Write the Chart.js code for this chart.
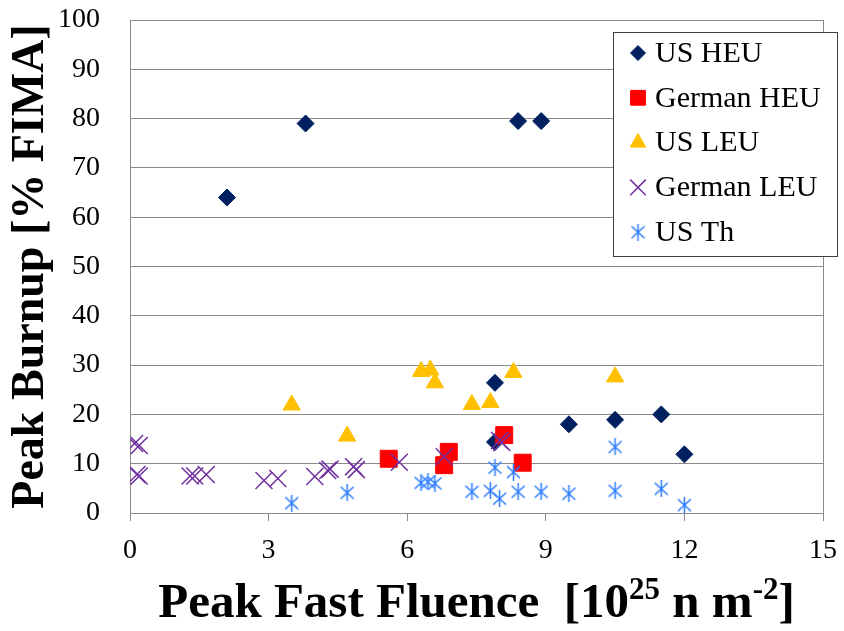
<!DOCTYPE html>
<html>
<head>
<meta charset="utf-8">
<title>Peak Burnup vs Peak Fast Fluence</title>
<script src="https://cdn.jsdelivr.net/npm/chart.js@4.4.1/dist/chart.umd.min.js"></script>
<style>
  html, body { margin: 0; padding: 0; background: #fff; }
  #wrap { width: 844px; height: 631px; position: relative; }
</style>
</head>
<body>
<div id="wrap"><canvas id="burnupChart" width="844" height="631"></canvas></div>
<script>
// series labels (legend order)
const seriesNames = ["US HEU", "German HEU", "US LEU", "German LEU", "US Th"];
const seriesColors = ["#002060", "#FF0000", "#FFC000", "#7030A0", "#2A7BFF"];

// x = peak fast fluence [1e25 n/m2], y = peak burnup [% FIMA]
const usHeuX = [2.1, 3.8, 8.4, 8.9, 7.9, 7.9, 9.5, 10.5, 11.5, 12.0];
const usHeuY = [64.0, 79.0, 79.5, 79.5, 26.4, 14.4, 18.0, 18.9, 20.0, 11.9];

const germanHeuX = [5.6, 6.8, 6.9, 8.1, 8.5];
const germanHeuY = [11.0, 9.7, 12.4, 15.8, 10.2];

const usLeuX = [3.5, 4.7, 6.3, 6.5, 6.6, 7.4, 7.8, 8.3, 10.5];
const usLeuY = [21.9, 15.6, 28.7, 29.0, 26.4, 22.0, 22.4, 28.5, 27.6];

const germanLeuX = [0.1, 0.2, 0.15, 0.2, 1.3, 1.4, 1.65, 2.9, 3.2, 4.0, 4.28, 4.33, 4.84, 4.9, 5.83, 6.8, 8.0, 8.05];
const germanLeuY = [14.1, 13.7, 7.8, 7.5, 7.5, 7.5, 7.8, 6.6, 7.0, 7.4, 8.6, 8.9, 9.4, 8.8, 10.3, 11.4, 14.7, 14.3];

const usThX = [3.5, 4.7, 6.3, 6.45, 6.6, 7.4, 7.8, 8.0, 7.9, 8.3, 8.4, 8.9, 9.5, 10.5, 10.5, 11.5, 12.0];
const usThY = [2.0, 4.1, 6.1, 6.3, 6.0, 4.3, 4.5, 2.9, 9.2, 8.3, 4.3, 4.3, 3.9, 13.4, 4.5, 4.9, 1.6];

const xTicks = [0, 3, 6, 9, 12, 15];
const yTicks = [0, 10, 20, 30, 40, 50, 60, 70, 80, 90, 100];

const SERIF = "'Liberation Serif', 'Times New Roman', serif";
const GRID = "#8a8a8a";

function toPoints(xs, ys) {
  return xs.map((x, i) => ({ x: x, y: ys[i] }));
}

// Excel-like asterisk marker (X plus a vertical bar)
function makeAsterisk(color) {
  const c = document.createElement("canvas");
  c.width = 17;
  c.height = 17;
  const g = c.getContext("2d");
  g.strokeStyle = color;
  g.lineWidth = 1.5;
  g.beginPath();
  g.moveTo(2, 2.5); g.lineTo(15, 14.5);
  g.moveTo(15, 2.5); g.lineTo(2, 14.5);
  g.moveTo(8.5, 0); g.lineTo(8.5, 17);
  g.stroke();
  return c;
}

const asterisk = makeAsterisk(seriesColors[4]);

const markerStyles = [
  { pointStyle: "rectRot", radius: 8.5, borderWidth: 1 },
  { pointStyle: "rect", radius: 12, borderWidth: 1 },
  { pointStyle: "triangle", radius: 10, borderWidth: 1 },
  { pointStyle: "crossRot", radius: 12, borderWidth: 1.5 },
  { pointStyle: asterisk, radius: 8, borderWidth: 1 }
];

const seriesData = [
  toPoints(usHeuX, usHeuY),
  toPoints(germanHeuX, germanHeuY),
  toPoints(usLeuX, usLeuY),
  toPoints(germanLeuX, germanLeuY),
  toPoints(usThX, usThY)
];

// boxed legend in the top right corner, sticking out past the plot frame
const boxLegend = {
  id: "boxLegend",
  afterDraw(chart) {
    const ctx = chart.ctx;
    const left = 613, top = 32, width = 224, height = 224;
    const rowGap = 44.8;
    ctx.save();
    ctx.fillStyle = "#fff";
    ctx.fillRect(left, top, width, height);
    ctx.strokeStyle = "#404040";
    ctx.lineWidth = 1;
    ctx.strokeRect(left + 0.5, top + 0.5, width, height);

    seriesNames.forEach((name, i) => {
      const y = top + 21 + i * rowGap;
      const st = markerStyles[i];
      ctx.fillStyle = seriesColors[i];
      ctx.strokeStyle = seriesColors[i];
      ctx.lineWidth = st.borderWidth;
      if (Chart.helpers && Chart.helpers.drawPoint) {
        Chart.helpers.drawPoint(ctx, {
          pointStyle: st.pointStyle,
          radius: i === 1 ? 10.5 : st.radius - 1,
          rotation: 0,
          borderWidth: st.borderWidth
        }, left + 25, y);
      }
      ctx.fillStyle = "#000";
      ctx.font = "30px " + SERIF;
      ctx.textAlign = "left";
      ctx.textBaseline = "middle";
      ctx.fillText(name, left + 42, y + 1);
    });
    ctx.restore();
  }
};

// x axis title with superscripts
const xTitle = {
  id: "xTitle",
  afterDraw(chart) {
    const ctx = chart.ctx;
    const area = chart.chartArea;
    const parts = [
      { t: "Peak Fast Fluence  [10", sup: false },
      { t: "25", sup: true },
      { t: " n m", sup: false },
      { t: "-2", sup: true },
      { t: "]", sup: false }
    ];
    const bigFont = "bold 49px " + SERIF;
    const smallFont = "bold 31px " + SERIF;
    ctx.save();
    let total = 0;
    parts.forEach(p => {
      ctx.font = p.sup ? smallFont : bigFont;
      p.w = ctx.measureText(p.t).width;
      total += p.w;
    });
    let x = (area.left + area.right) / 2 - total / 2;
    const base = 617;
    ctx.fillStyle = "#000";
    ctx.textAlign = "left";
    ctx.textBaseline = "alphabetic";
    parts.forEach(p => {
      ctx.font = p.sup ? smallFont : bigFont;
      ctx.fillText(p.t, x, p.sup ? base - 18 : base);
      x += p.w;
    });
    ctx.restore();
  }
};

function renderChart() {
  const ctx = document.getElementById("burnupChart").getContext("2d");

  new Chart(ctx, {
    type: "scatter",
    data: {
      datasets: seriesNames.map((name, i) => ({
        label: name,
        data: seriesData[i],
        backgroundColor: seriesColors[i],
        borderColor: seriesColors[i],
        pointStyle: markerStyles[i].pointStyle,
        pointRadius: markerStyles[i].radius,
        pointBorderWidth: markerStyles[i].borderWidth,
        // later series are painted on top, like the original
        order: seriesNames.length - i
      }))
    },
    options: {
      responsive: false,
      animation: false,
      layout: { autoPadding: false, padding: { top: 20, right: 21, left: 0, bottom: 0 } },
      plugins: {
        legend: { display: false },
        tooltip: { enabled: false }
      },
      scales: {
        x: {
          type: "linear",
          min: 0,
          max: 15,
          afterBuildTicks: (scale) => { scale.ticks = xTicks.map(v => ({ value: v })); },
          afterFit: (scale) => {
            // fixed plot frame, don't let edge labels push it around
            scale.height = 118;
            scale.paddingLeft = 0;
            scale.paddingRight = 0;
          },
          border: { color: GRID, width: 1 },
          grid: {
            color: (c) => (c.tick && c.tick.value === 15 ? GRID : "rgba(0,0,0,0)"),
            tickColor: GRID,
            drawTicks: true,
            tickLength: 8
          },
          ticks: {
            color: "#000",
            padding: 13,
            font: { family: SERIF, size: 28 }
          }
        },
        y: {
          type: "linear",
          min: 0,
          max: 100,
          afterBuildTicks: (scale) => { scale.ticks = yTicks.map(v => ({ value: v })); },
          afterFit: (scale) => {
            scale.width = 130;
            scale.paddingTop = 0;
            scale.paddingBottom = 0;
          },
          border: { color: GRID, width: 1 },
          grid: { color: GRID, drawTicks: false },
          ticks: {
            color: "#000",
            padding: 30,
            font: { family: SERIF, size: 28 }
          },
          title: {
            display: true,
            text: "Peak Burnup [% FIMA]",
            color: "#000",
            padding: { top: 4, bottom: 0 },
            font: { family: SERIF, size: 46, weight: "bold" }
          }
        }
      }
    },
    plugins: [boxLegend, xTitle]
  });
}

renderChart();
</script>
</body>
</html>
